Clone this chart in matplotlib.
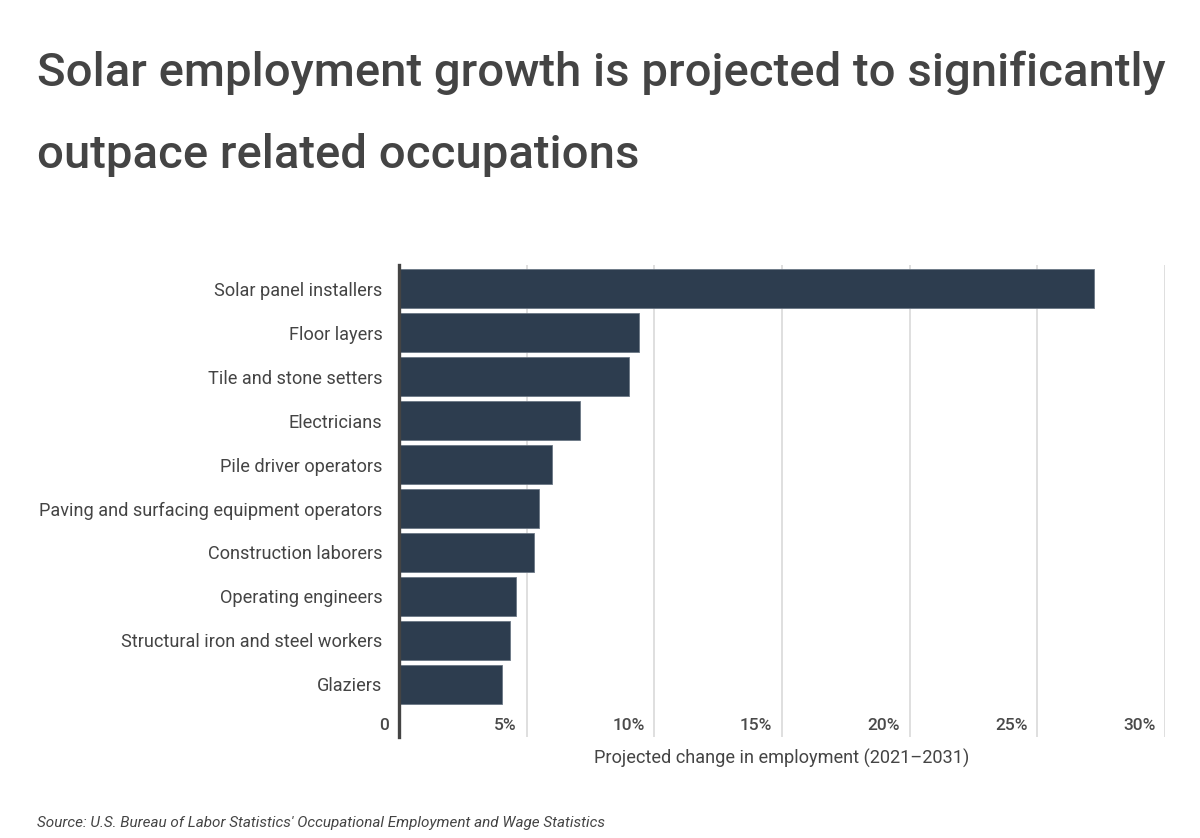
import matplotlib.pyplot as plt
from matplotlib.transforms import blended_transform_factory

plt.rcParams['font.family'] = ['Roboto', 'DejaVu Sans']

# data
occupations = [
    "Solar panel installers",
    "Floor layers",
    "Tile and stone setters",
    "Electricians",
    "Pile driver operators",
    "Paving and surfacing equipment operators",
    "Construction laborers",
    "Operating engineers",
    "Structural iron and steel workers",
    "Glaziers",
]
growth_pct = [27.2, 9.4, 9.0, 7.1, 6.0, 5.5, 5.3, 4.6, 4.35, 4.05]
x_ticks = [0, 5, 10, 15, 20, 25, 30]
x_tick_labels = ["0", "5%", "10%", "15%", "20%", "25%", "30%"]

text_color = "#444444"
bar_color = "#2d3d4f"
W, H = 1200, 838

fig = plt.figure(figsize=(W / 100, H / 100), dpi=100)
# axes from x=399..1165 px, y=265..737 px
ax = fig.add_axes([399 / W, 1 - 737 / H, (1165 - 399) / W, (737 - 265) / H])

pos = list(range(len(occupations)))
ax.barh(pos, growth_pct, height=0.89, color=bar_color,
        edgecolor="#6b7785", linewidth=0.6, zorder=3)
ax.set_xlim(0, 30)
ax.set_ylim(10.2, -0.54)

ax.set_yticks(pos)
ax.set_yticklabels(occupations, fontsize=13.1, color=text_color)
ax.tick_params(axis="y", length=0, pad=12)
ax.set_xticks([])

for s in ["top", "right", "bottom"]:
    ax.spines[s].set_visible(False)
ax.spines["left"].set_linewidth(2.4)
ax.spines["left"].set_color("#444444")
ax.spines["left"].set_zorder(4)

# grid lines and in-plot tick labels
for t in x_ticks[1:]:
    ax.axvline(t, color="#d9d9d9", linewidth=1.2, zorder=1)
tr = blended_transform_factory(ax.transData, ax.transAxes)
for t, lab in zip(x_ticks, x_tick_labels):
    ax.text(t - 0.38, 0.024, lab, transform=tr, ha="right", va="center",
            fontsize=12.5, fontweight="medium", color="#4a4a4a")

ax.text(0.5, -0.045, "Projected change in employment (2021\u20132031)",
        transform=ax.transAxes, ha="center", va="center",
        fontsize=13.1, color=text_color)

fig.text(37 / W, 1 - 73 / H, "Solar employment growth is projected to significantly",
         fontsize=34, fontweight="medium", color=text_color, va="center", ha="left")
fig.text(37 / W, 1 - 155 / H, "outpace related occupations",
         fontsize=34, fontweight="medium", color=text_color, va="center", ha="left")

fig.text(37 / W, 1 - 823 / H,
         "Source: U.S. Bureau of Labor Statistics' Occupational Employment and Wage Statistics",
         fontsize=11, style="italic", color=text_color, va="center", ha="left")

fig.savefig("out.png", dpi=100)
